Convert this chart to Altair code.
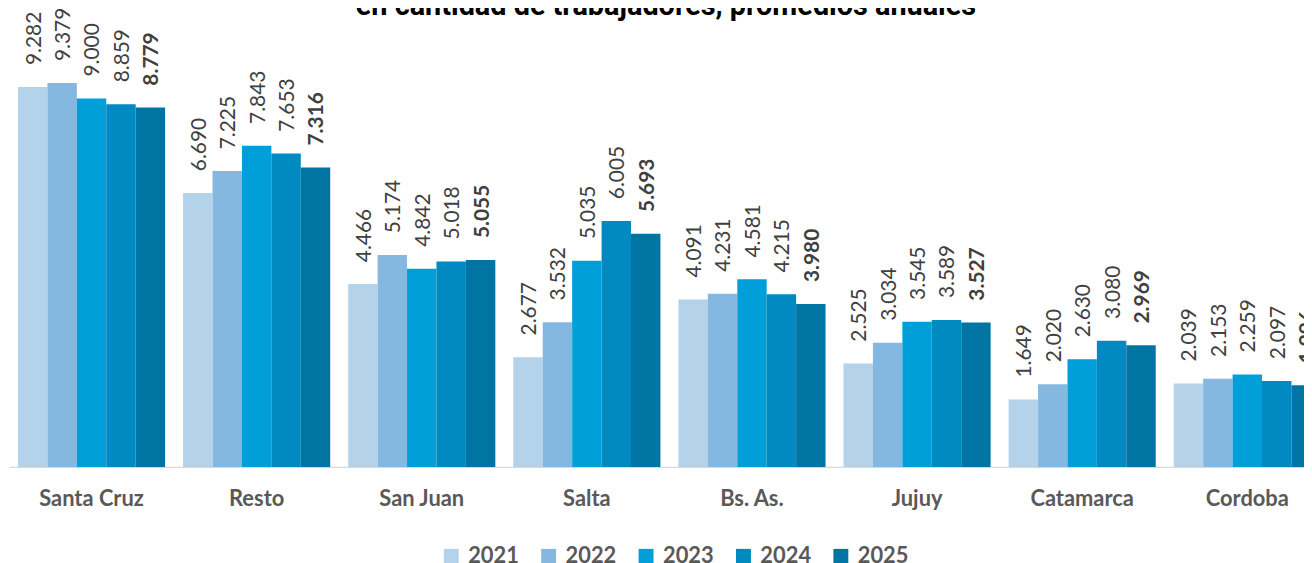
import altair as alt
import pandas as pd

# ---- data ----
categories = ["Santa Cruz", "Resto", "San Juan", "Salta", "Bs. As.", "Jujuy", "Catamarca", "Cordoba"]
years = ["2021", "2022", "2023", "2024", "2025"]
v2021 = [9282, 6690, 4466, 2677, 4091, 2525, 1649, 2039]
v2022 = [9379, 7225, 5174, 3532, 4231, 3034, 2020, 2153]
v2023 = [9000, 7843, 4842, 5035, 4581, 3545, 2630, 2259]
v2024 = [8859, 7653, 5018, 6005, 4215, 3589, 3080, 2097]
v2025 = [8779, 7316, 5055, 5693, 3980, 3527, 2969, 1996]
colors = ["#B4D2EA", "#85B8E0", "#009FD9", "#008AC1", "#0074A3"]
title_text = "en cantidad de trabajadores, promedios anuales"

series = [v2021, v2022, v2023, v2024, v2025]
rows = []
for yr, vals in zip(years, series):
    for cat, v in zip(categories, vals):
        rows.append({"cat": cat, "year": yr, "value": v,
                     "label": f"{v:,}".replace(",", ".")})
df = pd.DataFrame(rows)

X = alt.X("cat:N", sort=categories, title=None,
          scale=alt.Scale(range=[1, 1330], paddingInner=0.109, paddingOuter=0.0545),
          axis=alt.Axis(labelAngle=0, ticks=False, tickSize=0, labelPadding=22,
                        labelFont="Lato", labelFontWeight="bold", labelFontSize=22,
                        labelColor="#595959", domainColor="#d9d9d9", domainWidth=1.5,
                        grid=False))
XO = alt.XOffset("year:N", sort=years,
                 scale=alt.Scale(domain=years, paddingInner=0, paddingOuter=0))
Y = alt.Y("value:Q", scale=alt.Scale(domain=[0, 11168], nice=False, zero=True), axis=None)

base = alt.Chart(df)

bars = base.mark_bar().encode(
    x=X, xOffset=XO, y=Y,
    color=alt.Color("year:N", sort=years,
                    scale=alt.Scale(domain=years, range=colors),
                    legend=alt.Legend(title=None, orient="none", direction="horizontal",
                                      legendX=435, legendY=539, padding=0,
                                      symbolType="square", symbolSize=225,
                                      symbolStrokeWidth=0, symbolOpacity=1,
                                      labelFont="Lato", labelFontSize=22,
                                      labelFontWeight="bold", labelColor="#595959",
                                      labelOffset=6, columnPadding=18)),
)

lab_norm = base.transform_filter(alt.datum.year != "2025").mark_text(
    angle=270, align="left", baseline="middle", dx=22, dy=2,
    font="Lato", fontSize=21, color="#404040",
).encode(x=X, xOffset=XO, y=Y, text="label:N")

lab_bold = base.transform_filter(alt.datum.year == "2025").mark_text(
    angle=270, align="left", baseline="middle", dx=22, dy=2,
    font="Lato", fontSize=21, fontWeight="bold", color="#404040",
).encode(x=X, xOffset=XO, y=Y, text="label:N")

title = alt.Chart(pd.DataFrame({"t": [title_text]})).mark_text(
    font="Roboto", fontSize=29, fontWeight="bold", color="#000000",
    align="center", baseline="alphabetic",
).encode(x=alt.value(662), y=alt.value(5), text="t:N")

chart = alt.layer(bars, lab_norm, lab_bold, title).properties(
    width=1304, height=460,
    padding={"left": 0, "right": 0, "top": 0, "bottom": 95},
    autosize=alt.AutoSizeParams(type="none"),
    background="white",
).configure_view(stroke=None)

chart.save("out.html", embed_options={"renderer": "svg", "actions": False})
